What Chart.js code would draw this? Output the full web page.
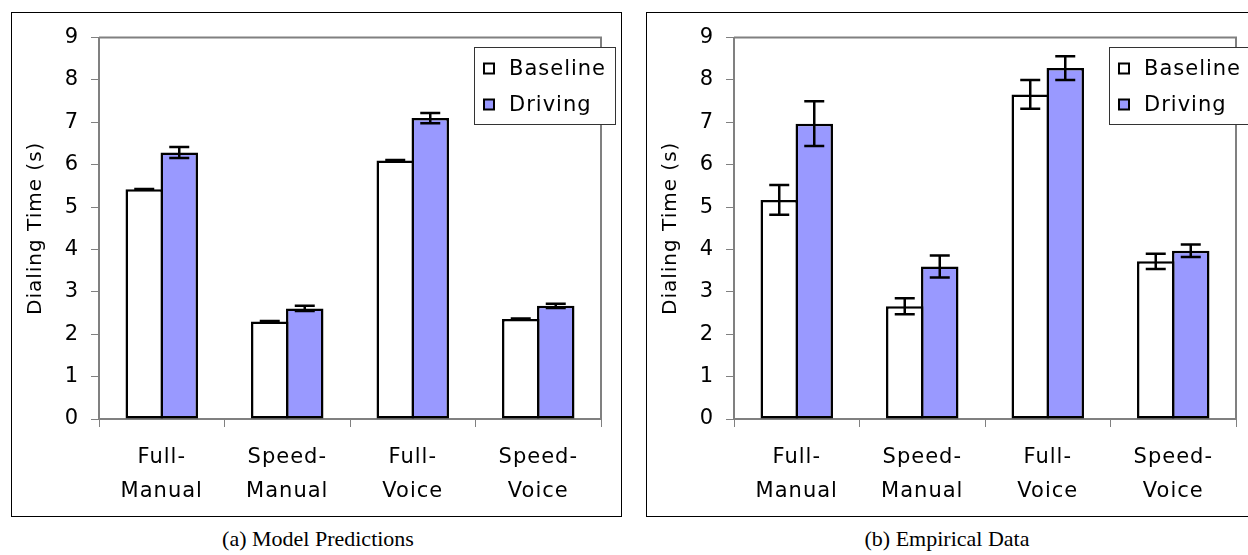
<!DOCTYPE html>
<html><head><meta charset="utf-8">
<script src="https://cdn.jsdelivr.net/npm/chart.js@4.4.0/dist/chart.umd.min.js"></script>
<style>
html,body{margin:0;padding:0;background:#fff;overflow:hidden;width:1248px;height:555px;}
.box{position:absolute;top:12px;width:609px;height:503px;border:1px solid #000;background:#fff;}
.box canvas{position:absolute;left:0;top:0;}
.cap{position:absolute;font-family:"Liberation Serif","Times New Roman",serif;font-size:22px;color:#000;white-space:nowrap;transform:translateX(-50%);line-height:26px;}
</style></head><body>
<div class="box" style="left:11px"><canvas id="cA" width="609" height="503"></canvas></div>
<div class="box" style="left:646px"><canvas id="cB" width="609" height="503"></canvas></div>
<div class="cap" style="left:318px;top:526px">(a) Model Predictions</div>
<div class="cap" style="left:947px;top:526px">(b) Empirical Data</div>
<script>
const categories = [["Full-","Manual"],["Speed-","Manual"],["Full-","Voice"],["Speed-","Voice"]];
const seriesNames = ["Baseline","Driving"];
const yMin = 0, yMax = 9, yStep = 1;
const yTitle = "Dialing Time (s)";

const modelBaseline    = [5.42, 2.30, 6.10, 2.36];
const modelBaselineErr = [0.01, 0.01, 0.01, 0.01];
const modelDriving     = [6.29, 2.61, 7.10, 2.67];
const modelDrivingErr  = [0.13, 0.06, 0.12, 0.05];

const empBaseline    = [5.17, 2.66, 7.66, 3.72];
const empBaselineErr = [0.35, 0.19, 0.34, 0.18];
const empDriving     = [6.97, 3.60, 8.28, 3.97];
const empDrivingErr  = [0.53, 0.26, 0.28, 0.15];

const FONT = '"DejaVu Sans", Verdana, sans-serif';
const GRAY = '#808080';
const colors = ['#FFFFFF', '#9999FF'];

const spacingPlugin = {
  id: 'spacing',
  beforeDraw(chart) { chart.ctx.letterSpacing = '1px'; }
};

const framePlugin = {
  id: 'frame',
  beforeDatasetsDraw(chart) {
    const {ctx, chartArea: a} = chart;
    ctx.save();
    ctx.strokeStyle = GRAY; ctx.lineWidth = 2;
    ctx.beginPath();
    ctx.moveTo(a.left, a.top); ctx.lineTo(a.right, a.top); ctx.lineTo(a.right, a.bottom);
    ctx.stroke();
    ctx.restore();
  }
};

const errorPlugin = {
  id: 'errbars',
  afterDatasetsDraw(chart) {
    const {ctx} = chart; const ys = chart.scales.y;
    ctx.save();
    ctx.strokeStyle = '#000'; ctx.lineWidth = 2.5;
    chart.data.datasets.forEach((ds, i) => {
      const meta = chart.getDatasetMeta(i);
      meta.data.forEach((bar, j) => {
        const v = ds.data[j], e = ds.errors[j];
        const t = ys.getPixelForValue(v + e), b = ys.getPixelForValue(v - e);
        const x = bar.x, hw = 10;
        ctx.beginPath();
        ctx.moveTo(x, t); ctx.lineTo(x, b);
        ctx.moveTo(x - hw, t); ctx.lineTo(x + hw, t);
        ctx.moveTo(x - hw, b); ctx.lineTo(x + hw, b);
        ctx.stroke();
      });
    });
    ctx.restore();
  }
};

const legendPlugin = {
  id: 'boxlegend',
  afterDraw(chart) {
    const {ctx} = chart;
    const bx = 462.5, by = 34.5, bw = 141, bh = 77;
    ctx.save();
    ctx.fillStyle = '#fff'; ctx.fillRect(bx, by, bw, bh);
    ctx.strokeStyle = '#333'; ctx.lineWidth = 1; ctx.strokeRect(bx, by, bw, bh);
    chart.data.datasets.forEach((ds, i) => {
      const cy = by + 21 + i * 36;
      ctx.fillStyle = ds.backgroundColor;
      ctx.fillRect(472, cy - 5, 10, 10);
      ctx.strokeStyle = '#000'; ctx.lineWidth = 2;
      ctx.strokeRect(472, cy - 5, 10, 10);
      ctx.fillStyle = '#000';
      ctx.font = '21px ' + FONT;
      ctx.textAlign = 'left'; ctx.textBaseline = 'middle';
      ctx.fillText(ds.label, 497, cy + 1);
    });
    ctx.restore();
  }
};

function makeChart(id, base, baseErr, drive, driveErr) {
  const mk = (label, data, errs, color) => ({
    label, data, errors: errs,
    backgroundColor: color, borderColor: '#000', borderWidth: 2.5,
    borderSkipped: false, categoryPercentage: 0.558, barPercentage: 1.07
  });
  return new Chart(document.getElementById(id), {
    type: 'bar',
    data: {
      labels: categories,
      datasets: [
        mk(seriesNames[0], base, baseErr, colors[0]),
        mk(seriesNames[1], drive, driveErr, colors[1])
      ]
    },
    options: {
      responsive: false, animation: false, devicePixelRatio: 1,
      layout: {padding: {top: 22, right: 20, left: 0, bottom: 0}},
      plugins: {legend: {display: false}, tooltip: {enabled: false}},
      scales: {
        x: {
          afterFit(s) { s.height = 97; },
          grid: {offset: true, drawOnChartArea: false, tickLength: 8, color: GRAY, lineWidth: 1},
          border: {color: GRAY, width: 2},
          ticks: {color: '#000', font: {family: FONT, size: 21, lineHeight: 1.62}, padding: 14, maxRotation: 0, autoSkip: false}
        },
        y: {
          min: yMin, max: yMax,
          afterFit(s) { s.width = 87; },
          grid: {drawOnChartArea: false, tickLength: 8, color: GRAY, lineWidth: 1},
          border: {color: GRAY, width: 2},
          ticks: {stepSize: yStep, color: '#000', font: {family: FONT, size: 21}, padding: 12},
          title: {display: true, text: yTitle, color: '#000', font: {family: FONT, size: 20}, padding: {top: 12, bottom: 0}}
        }
      }
    },
    plugins: [spacingPlugin, framePlugin, errorPlugin, legendPlugin]
  });
}

makeChart('cA', modelBaseline, modelBaselineErr, modelDriving, modelDrivingErr);
makeChart('cB', empBaseline, empBaselineErr, empDriving, empDrivingErr);
</script>
</body></html>
